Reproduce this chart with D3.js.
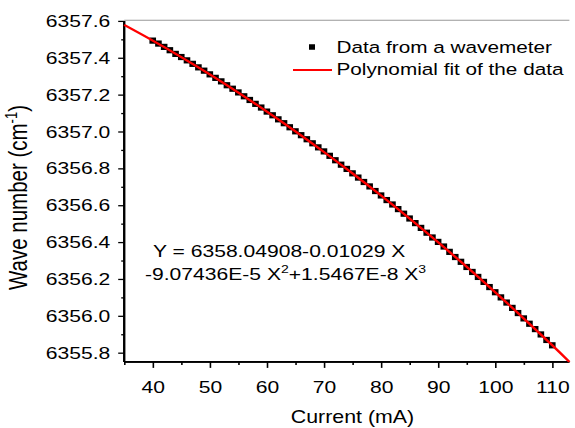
<!DOCTYPE html>
<html><head><meta charset="utf-8">
<script src="https://cdn.jsdelivr.net/npm/d3@7"></script>
<style>body{margin:0;background:#fff}svg{display:block}</style>
</head><body>
<script>
// ---- data ----
const currents = [40,41,42,43,44,45,46,47,48,49,50,51,52,53,54,55,56,57,58,59,60,61,62,63,64,65,66,67,68,69,70,71,72,73,74,75,76,77,78,79,80,81,82,83,84,85,86,87,88,89,90,91,92,93,94,95,96,97,98,99,100,101,102,103,104,105,106,107,108,109,110];
const waveNumbers = [6357.493,6357.477,6357.459,6357.441,6357.421,6357.404,6357.386,6357.367,6357.348,6357.330,
  6357.310,6357.291,6357.272,6357.251,6357.232,6357.212,6357.191,6357.171,6357.150,6357.130,
  6357.108,6357.088,6357.066,6357.045,6357.023,6357.001,6356.980,6356.958,6356.936,6356.914,
  6356.892,6356.868,6356.844,6356.820,6356.797,6356.773,6356.750,6356.726,6356.702,6356.677,
  6356.653,6356.628,6356.604,6356.579,6356.554,6356.528,6356.503,6356.477,6356.451,6356.425,
  6356.401,6356.376,6356.347,6356.319,6356.293,6356.265,6356.238,6356.211,6356.184,6356.156,
  6356.128,6356.100,6356.072,6356.043,6356.015,6355.986,6355.957,6355.928,6355.899,6355.869,6355.840];
const fitCurrents = [35,40,45,50,55,60,65,70,75,80,85,90,95,100,105,110,113];
const fitWaveNumbers = [6357.578,6357.493,6357.404,6357.310,6357.211,6357.108,6357.001,6356.889,6356.773,6356.653,6356.528,6356.399,6356.266,6356.128,6355.986,6355.840,6355.750];
const xTicks = [40,50,60,70,80,90,100,110];
const xMinorTicks = [35,45,55,65,75,85,95,105];
const yTicks = [6355.8,6356.0,6356.2,6356.4,6356.6,6356.8,6357.0,6357.2,6357.4,6357.6];
const yMinorTicks = [6355.9,6356.1,6356.3,6356.5,6356.7,6356.9,6357.1,6357.3,6357.5];
const legendLabels = ["Data from a wavemeter","Polynomial fit of the data"];
const xTitle = "Current (mA)";
const yTitle = ["Wave number (cm","-1",")"];
const eqLine1 = "Y = 6358.04908-0.01029 X";
const eqLine2 = ["-9.07436E-5 X","2","+1.5467E-8 X","3"];

// ---- layout (image is horizontally stretched) ----
const S = 1.22, W = 575 / S, H = 428;
const font = "'Liberation Sans', Arial, sans-serif";
const svg = d3.select("body").append("svg")
  .attr("width", 575).attr("height", H)
  .attr("viewBox", `0 0 ${W} ${H}`).attr("preserveAspectRatio", "none")
  .style("font-family", font);

const x = d3.scaleLinear().domain([35, 113]).range([124.2 / S, 569.4 / S]);
const y = d3.scaleLinear().domain([6355.75, 6357.6]).range([361.9, 20.9]);

// faint top line
svg.append("line").attr("x1", x(35)).attr("x2", x(113)).attr("y1", 20.3).attr("y2", 20.3)
  .attr("stroke", "#999").attr("stroke-width", 1);

// axes
const gx = svg.append("g").attr("transform", `translate(0,${y(6355.75)})`);
gx.call(d3.axisBottom(x).tickValues(xTicks).tickSize(6).tickPadding(0).tickFormat(d3.format("d")));
gx.append("g").call(d3.axisBottom(x).tickValues(xMinorTicks).tickSize(3).tickFormat(""));
gx.selectAll("text").attr("y", 19).attr("dy", "0.71em").attr("font-size", 17.3).attr("font-family", font).attr("fill", "#000");

const gy = svg.append("g").attr("transform", `translate(${x(35)},0)`);
gy.call(d3.axisLeft(y).tickValues(yTicks).tickSize(6 / S).tickPadding(6.5).tickFormat(d3.format(".1f")));
gy.append("g").call(d3.axisLeft(y).tickValues(yMinorTicks).tickSize(3 / S).tickFormat(""));
gy.selectAll("text").attr("font-size", 17.3).attr("font-family", font).attr("fill", "#000");

svg.selectAll(".domain").attr("stroke", "#000").attr("stroke-width", 1.7);
svg.selectAll(".tick line").attr("stroke", "#000").attr("stroke-width", 1.3);
gx.selectAll(".domain").attr("d", `M${x(35)},0H${x(113)}`);
gy.selectAll(".domain").attr("d", `M0,${y(6355.75)}V${y(6357.6)}`);

// data squares
const sw = 6.6 / S, sh = 6.2;
svg.append("g").selectAll("rect").data(currents).join("rect")
  .attr("x", (d) => x(d) - sw / 2)
  .attr("y", (d, i) => y(waveNumbers[i]) - sh / 2)
  .attr("width", sw).attr("height", sh).attr("fill", "#000");

// fit line
const line = d3.line().x((d) => x(d)).y((d, i) => y(fitWaveNumbers[i])).curve(d3.curveNatural);
svg.append("path").datum(fitCurrents).attr("d", line)
  .attr("fill", "none").attr("stroke", "#ff0000").attr("stroke-width", 2.2);

// legend
const lw = 6 / S, lh = 5.5;
svg.append("rect").attr("x", 312 / S - lw / 2).attr("y", 47 - lh / 2).attr("width", lw).attr("height", lh).attr("fill", "#000");
svg.append("line").attr("x1", 293 / S).attr("x2", 332 / S).attr("y1", 70).attr("y2", 70)
  .attr("stroke", "#ff0000").attr("stroke-width", 2.1);
svg.selectAll(".leg").data(legendLabels).join("text").attr("class", "leg")
  .attr("x", 336.5 / S).attr("y", (d, i) => 52.8 + i * 22.5)
  .attr("font-size", 17).attr("fill", "#000").text((d) => d);

// equation
svg.append("text").attr("x", 153 / S).attr("y", 257.5).attr("font-size", 17.3).attr("fill", "#000").text(eqLine1);
const eq2 = svg.append("text").attr("x", 145 / S).attr("y", 280.5).attr("font-size", 17.3).attr("fill", "#000");
eq2.append("tspan").text(eqLine2[0]);
eq2.append("tspan").attr("font-size", 11.5).attr("dy", -7).text(eqLine2[1]);
eq2.append("tspan").attr("dy", 7).text(eqLine2[2]);
eq2.append("tspan").attr("font-size", 11.5).attr("dy", -7).text(eqLine2[3]);

// axis titles
svg.append("text").attr("x", 352.5 / S).attr("y", 423.5).attr("text-anchor", "middle")
  .attr("font-size", 17.5).attr("fill", "#000").text(xTitle);
const yt = svg.append("text").attr("transform", `translate(${27 / S},197.5) rotate(-90)`)
  .attr("text-anchor", "middle").attr("font-size", 20.5).attr("fill", "#000");
yt.append("tspan").text(yTitle[0]);
yt.append("tspan").attr("font-size", 13).attr("dy", -8).text(yTitle[1]);
yt.append("tspan").attr("dy", 8).text(yTitle[2]);
</script>
</body></html>
